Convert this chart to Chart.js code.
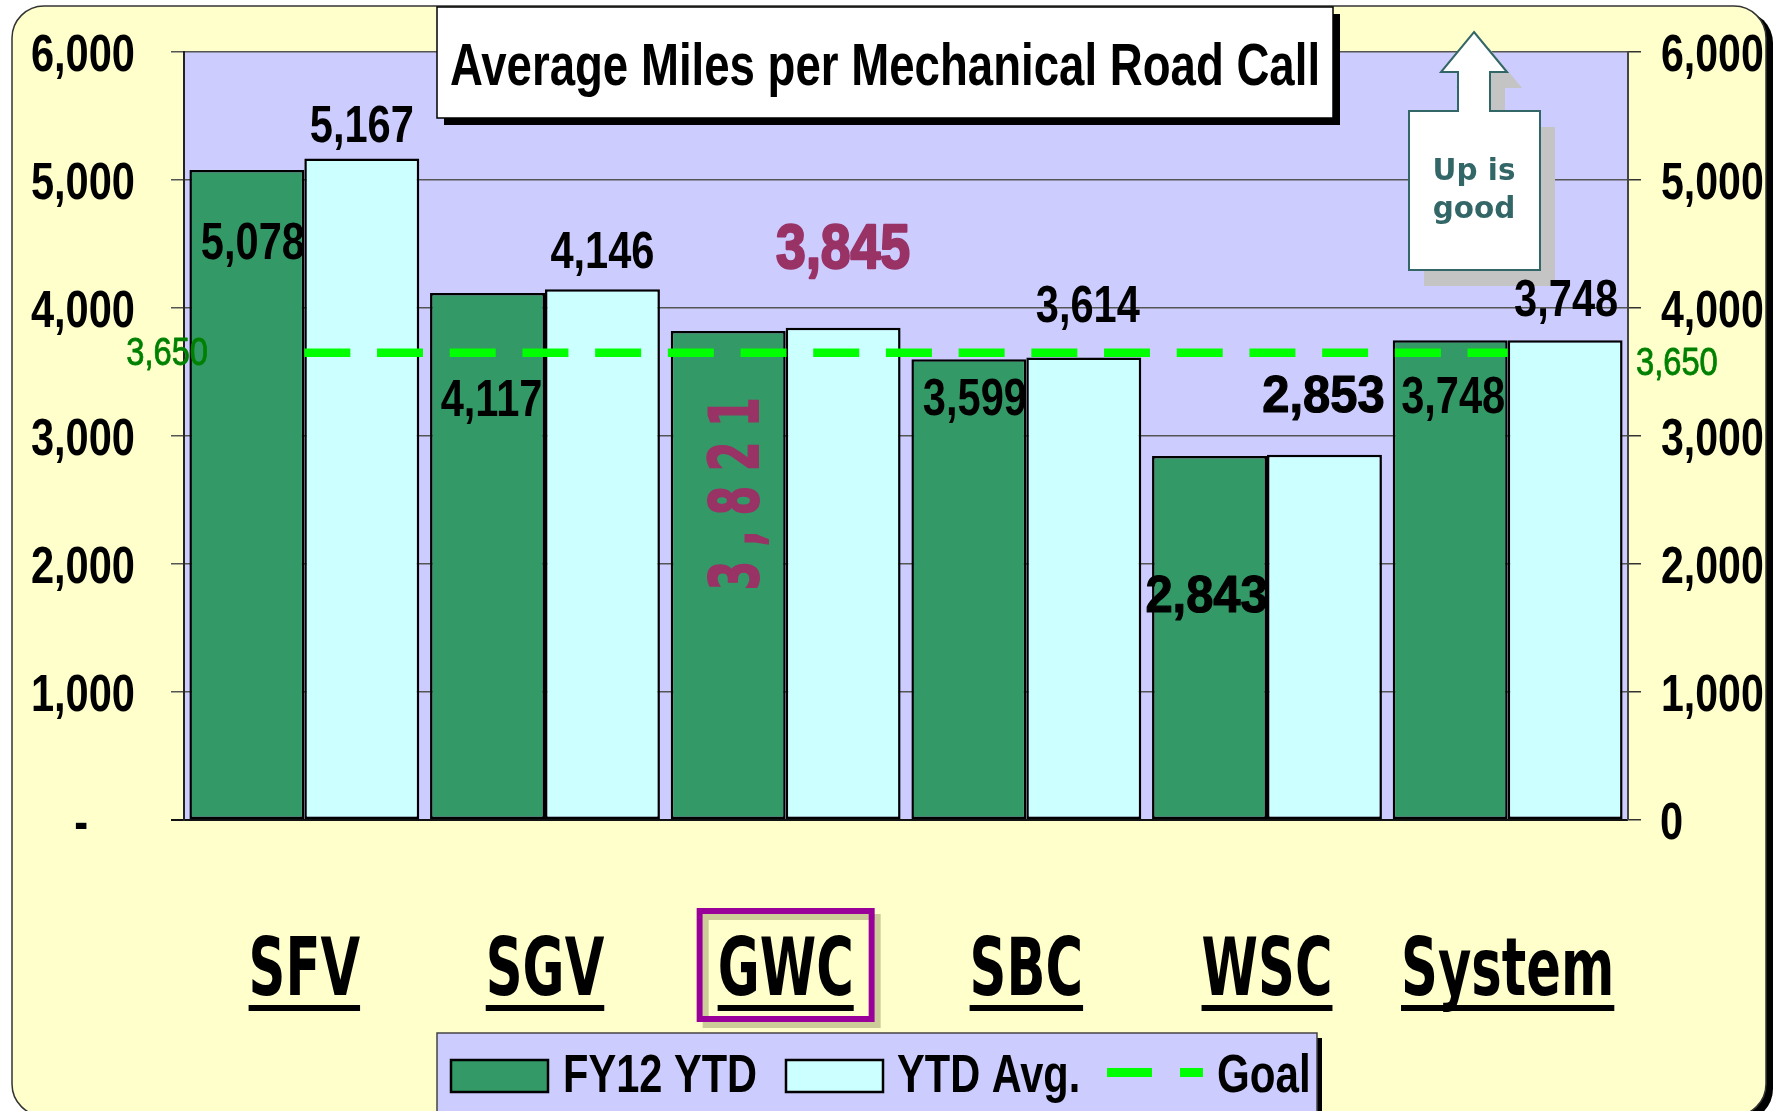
<!DOCTYPE html>
<html>
<head>
<meta charset="utf-8">
<title>Average Miles per Mechanical Road Call</title>
<script src="https://cdn.jsdelivr.net/npm/chart.js@4.4.1/dist/chart.umd.min.js"></script>
<style>
  html, body { margin: 0; padding: 0; background: #fff; }
  canvas { display: block; }
</style>
</head>
<body>
<canvas id="roadCallChart" width="1780" height="1111"></canvas>
<script>
// data
const categories = ["SFV", "SGV", "GWC", "SBC", "WSC", "System"];
const fy12Ytd = [5078, 4117, 3821, 3599, 2843, 3748];
const ytdAvg = [5167, 4146, 3845, 3614, 2853, 3748];
const goal = [3650, 3650, 3650, 3650, 3650, 3650];
const yTicks = [0, 1000, 2000, 3000, 4000, 5000, 6000];
const seriesNames = ["FY12 YTD", "YTD Avg.", "Goal"];
const chartTitle = "Average Miles per Mechanical Road Call";
const calloutLines = ["Up is", "good"];
const highlighted = "GWC";

const GREEN = "#339966";
const CYAN = "#CCFFFF";
const LAVENDER = "#CCCCFF";
const CREAM = "#FFFFCC";
const GOAL_GREEN = "#00FF00";
const MAGENTA = "#993366";
const TEAL = "#336666";

// where each value label sits, relative to the top centre of its bar (dy = baseline)
const labelPlacement = [
    [{dx: 6, dy: 89}, {dx: 4, dy: 123}, {dx: 12, dy: 163, kind: "rotated"}, {dx: 6, dy: 56}, {dx: -3, dy: 156, kind: "wide"}, {dx: 3, dy: 73}],
    [{dx: 0, dy: -17}, {dx: 0, dy: -21}, {dx: 0, dy: -60, kind: "big"}, {dx: 4, dy: -35}, {dx: -1, dy: -43, kind: "wide"}, {dx: 1, dy: -24}]
];

const fmt = v => v.toLocaleString("en-US");

// canvas text squeezed horizontally (the slide uses narrow faces)
function text(ctx, str, x, y, opt) {
    ctx.save();
    ctx.font = opt.font;
    ctx.fillStyle = opt.color || "#000";
    ctx.textBaseline = opt.baseline || "alphabetic";
    const sx = opt.sx || 1;
    const w = ctx.measureText(str).width * sx;
    const left = opt.align === "center" ? x - w / 2 : opt.align === "right" ? x - w : x;
    ctx.translate(left, y);
    ctx.scale(sx, 1);
    ctx.textAlign = "left";
    ctx.fillText(str, 0, 0);
    if (opt.heavy) {
        ctx.strokeStyle = opt.color || "#000";
        ctx.lineWidth = opt.heavy;
        ctx.lineJoin = "round";
        ctx.strokeText(str, 0, 0);
    }
    ctx.restore();
    return {left: left, width: w};
}

const NARROW = "bold 52px 'Liberation Sans'";

const slidePlugin = {
    id: "slide",
    beforeDraw(chart) {
        const ctx = chart.ctx, a = chart.chartArea;
        ctx.save();
        ctx.fillStyle = "#fff";
        ctx.fillRect(0, 0, chart.width, chart.height);
        ctx.fillStyle = "#000";
        ctx.beginPath();
        ctx.roundRect(19, 11, 1754, 1110, 32);
        ctx.fill();
        ctx.fillStyle = CREAM;
        ctx.beginPath();
        ctx.roundRect(12, 6, 1754, 1110, 32);
        ctx.fill();
        ctx.strokeStyle = "#333";
        ctx.lineWidth = 1.5;
        ctx.stroke();
        ctx.fillStyle = LAVENDER;
        ctx.fillRect(a.left, a.top, a.right - a.left, a.bottom - a.top);
        ctx.restore();
    },
    afterDraw(chart) {
        const ctx = chart.ctx;
        const y = chart.scales.y, x = chart.scales.x;

        // title box
        ctx.save();
        ctx.fillStyle = "#000";
        ctx.fillRect(444, 14, 896, 111);
        ctx.fillStyle = "#fff";
        ctx.fillRect(437, 7, 896, 111);
        ctx.strokeStyle = "#000";
        ctx.lineWidth = 1.5;
        ctx.strokeRect(437, 7, 896, 111);
        ctx.restore();
        text(ctx, chartTitle, 885, 85, {font: "bold 60px 'Liberation Sans'", sx: 0.76, align: "center"});

        // "Up is good" arrow callout
        const arrow = [[1474, 32], [1507, 72], [1490, 72], [1490, 111], [1540, 111], [1540, 270],
            [1409, 270], [1409, 111], [1458, 111], [1458, 72], [1441, 72]];
        const path = (ox, oy) => {
            ctx.beginPath();
            arrow.forEach((p, i) => i ? ctx.lineTo(p[0] + ox, p[1] + oy) : ctx.moveTo(p[0] + ox, p[1] + oy));
            ctx.closePath();
        };
        ctx.save();
        ctx.fillStyle = "#C4C4C4";
        path(15, 16);
        ctx.fill();
        ctx.fillStyle = "#fff";
        ctx.strokeStyle = TEAL;
        ctx.lineWidth = 2;
        path(0, 0);
        ctx.fill();
        ctx.stroke();
        ctx.restore();
        text(ctx, calloutLines[0], 1474, 180, {font: "bold 31px 'DejaVu Sans'", sx: 0.95, color: TEAL, align: "center"});
        text(ctx, calloutLines[1], 1474, 218, {font: "bold 31px 'DejaVu Sans'", sx: 0.95, color: TEAL, align: "center"});

        // axis tick labels, both sides
        y.ticks.forEach(t => {
            const py = y.getPixelForValue(t.value) + 18.5;
            if (t.value === 0) {
                text(ctx, "-", 88, py, {font: NARROW, sx: 0.8, align: "right"});
                text(ctx, "0", 1660, py, {font: NARROW, sx: 0.8});
            } else {
                text(ctx, fmt(t.value), 135, py, {font: NARROW, sx: 0.8, align: "right"});
                text(ctx, fmt(t.value), 1661, py, {font: NARROW, sx: 0.79});
            }
        });

        // goal value at both ends
        const gy = y.getPixelForValue(goal[0]);
        text(ctx, fmt(goal[0]), 208, gy + 12, {font: "38px 'Liberation Sans'", sx: 0.86, color: "#008000", align: "right", heavy: 0.8});
        text(ctx, fmt(goal[goal.length - 1]), 1636, gy + 22, {font: "38px 'Liberation Sans'", sx: 0.86, color: "#008000", heavy: 0.8});

        // value labels
        [0, 1].forEach(di => {
            const meta = chart.getDatasetMeta(di);
            const values = chart.data.datasets[di].data;
            meta.data.forEach((bar, j) => {
                const p = labelPlacement[di][j];
                const cx = bar.x + p.dx, by = bar.y + p.dy;
                const s = fmt(values[j]);
                if (p.kind === "rotated") {
                    ctx.save();
                    ctx.translate(cx, by);
                    ctx.rotate(-Math.PI / 2);
                    ctx.scale(0.62, 1);
                    ctx.font = "bold 68px 'DejaVu Sans'";
                    ctx.letterSpacing = "24px";
                    ctx.fillStyle = MAGENTA;
                    ctx.strokeStyle = MAGENTA;
                    ctx.lineWidth = 2;
                    ctx.textAlign = "center";
                    ctx.textBaseline = "middle";
                    ctx.fillText(s, 12, 0);
                    ctx.strokeText(s, 12, 0);
                    ctx.restore();
                } else if (p.kind === "big") {
                    text(ctx, s, cx, by, {font: "bold 63px 'Liberation Sans'", sx: 0.85, color: MAGENTA, align: "center", heavy: 2.5});
                } else if (p.kind === "wide") {
                    text(ctx, s, cx, by, {font: NARROW, sx: 0.94, align: "center", heavy: 1.2});
                } else {
                    text(ctx, s, cx, by, {font: NARROW, sx: 0.8, align: "center"});
                }
            });
        });

        // category labels, underlined
        categories.forEach((c, i) => {
            const cx = x.getPixelForValue(i);
            if (c === highlighted) {
                ctx.save();
                ctx.strokeStyle = "#CCCC99";
                ctx.lineWidth = 6;
                ctx.strokeRect(cx - 86 + 6, 911 + 6, 172, 108);
                ctx.strokeStyle = "#990099";
                ctx.strokeRect(cx - 86, 911, 172, 108);
                ctx.restore();
            }
            const r = text(ctx, c, cx, 995, {font: "bold 80px 'DejaVu Sans'", sx: 0.64, align: "center"});
            ctx.fillStyle = "#000";
            ctx.fillRect(r.left, 1005, r.width, 6);
        });

        // legend
        ctx.save();
        ctx.fillStyle = "#000";
        ctx.fillRect(1317, 1038, 5, 80);
        ctx.fillStyle = LAVENDER;
        ctx.fillRect(437, 1033, 880, 90);
        ctx.strokeStyle = "#444";
        ctx.lineWidth = 1.5;
        ctx.strokeRect(437, 1033, 880, 90);
        ctx.lineWidth = 2.5;
        ctx.strokeStyle = "#000";
        ctx.fillStyle = GREEN;
        ctx.fillRect(451, 1060, 97, 32);
        ctx.strokeRect(451, 1060, 97, 32);
        ctx.fillStyle = CYAN;
        ctx.fillRect(786, 1060, 97, 32);
        ctx.strokeRect(786, 1060, 97, 32);
        ctx.strokeStyle = GOAL_GREEN;
        ctx.lineWidth = 9;
        ctx.setLineDash([45, 28]);
        ctx.beginPath();
        ctx.moveTo(1107, 1072.5);
        ctx.lineTo(1203, 1072.5);
        ctx.stroke();
        ctx.restore();
        const lf = "bold 54px 'Liberation Sans'";
        text(ctx, seriesNames[0], 563, 1092, {font: lf, sx: 0.77});
        text(ctx, seriesNames[1], 897, 1092, {font: lf, sx: 0.77});
        text(ctx, seriesNames[2], 1217, 1092, {font: lf, sx: 0.78});
    }
};

Chart.defaults.font.family = "'Liberation Sans'";

new Chart(document.getElementById("roadCallChart"), {
    type: "bar",
    data: {
        labels: categories,
        datasets: [
            {
                label: seriesNames[0],
                data: fy12Ytd,
                backgroundColor: GREEN,
                borderColor: "#000",
                borderWidth: 2.5,
                borderSkipped: false,
                yAxisID: "y",
                order: 1
            },
            {
                label: seriesNames[1],
                data: ytdAvg,
                backgroundColor: CYAN,
                borderColor: "#000",
                borderWidth: 2.5,
                borderSkipped: false,
                yAxisID: "y",
                order: 1
            },
            {
                type: "line",
                label: seriesNames[2],
                data: goal,
                borderColor: GOAL_GREEN,
                borderWidth: 8.5,
                borderDash: [46, 26.7],
                borderCapStyle: "butt",
                pointRadius: 0,
                fill: false,
                yAxisID: "y",
                order: 0
            }
        ]
    },
    options: {
        responsive: false,
        devicePixelRatio: 1,
        animation: false,
        categoryPercentage: 0.955,
        barPercentage: 1,
        layout: {padding: {top: 52, bottom: 291, left: 0, right: 0}},
        plugins: {
            legend: {display: false},
            title: {display: false},
            tooltip: {enabled: false}
        },
        scales: {
            x: {display: false},
            y: {
                position: "left",
                min: 0,
                max: 6000,
                afterBuildTicks: s => { s.ticks = yTicks.map(v => ({value: v})); },
                afterFit: s => { s.width = 184; },
                ticks: {display: false},
                grid: {
                    color: c => c.tick && c.tick.value === 0 ? "#111" : "#555",
                    lineWidth: c => c.tick && c.tick.value === 0 ? 2 : 1.5,
                    tickLength: 13,
                    drawTicks: true
                },
                border: {display: true, color: "#222", width: 2}
            },
            y2: {
                position: "right",
                min: 0,
                max: 6000,
                afterBuildTicks: s => { s.ticks = yTicks.map(v => ({value: v})); },
                afterFit: s => { s.width = 152; },
                ticks: {display: false},
                grid: {drawOnChartArea: false, color: "#333", lineWidth: 1.5, tickLength: 13},
                border: {display: true, color: "#444", width: 2}
            }
        }
    },
    plugins: [slidePlugin]
});
</script>
</body>
</html>
